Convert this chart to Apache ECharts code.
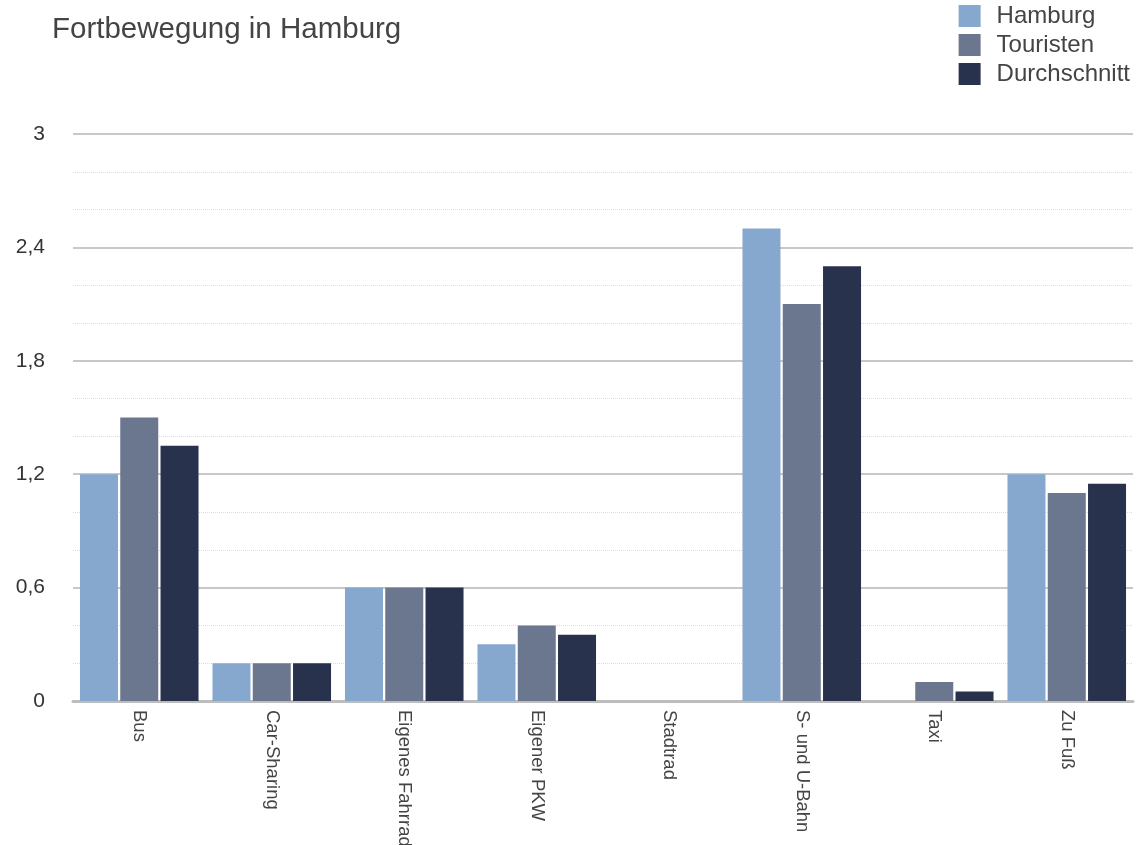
<!DOCTYPE html>
<html>
<head>
<meta charset="utf-8">
<script src="https://cdn.jsdelivr.net/npm/echarts@6/dist/echarts.min.js"></script>
<style>
  html, body { margin: 0; padding: 0; background: #fff; }
  #chart { width: 1137px; height: 845px; }
</style>
</head>
<body>
<div id="chart"></div>
<script>
// Verkehrsmittel und Nutzung
const categories = ['Bus', 'Car-Sharing', 'Eigenes Fahrrad', 'Eigener PKW', 'Stadtrad', 'S- und U-Bahn', 'Taxi', 'Zu Fuß'];
const hamburg = [1.2, 0.2, 0.6, 0.3, 0, 2.5, 0, 1.2];
const touristen = [1.5, 0.2, 0.6, 0.4, 0, 2.1, 0.1, 1.1];
const durchschnitt = [1.35, 0.2, 0.6, 0.35, 0, 2.3, 0.05, 1.15];
const seriesNames = ['Hamburg', 'Touristen', 'Durchschnitt'];
const colors = ['#86a8ce', '#6b778e', '#29324d'];

const font = '"Liberation Sans", Arial, Helvetica, sans-serif';
const chart = echarts.init(document.getElementById('chart'), null, { renderer: 'canvas' });

const values = [hamburg, touristen, durchschnitt];
chart.setOption({
  animation: false,
  color: colors,
  title: {
    text: 'Fortbewegung in Hamburg',
    left: 47,
    top: 10,
    textStyle: { fontFamily: font, fontSize: 29.5, fontWeight: 'normal', color: '#444' }
  },
  legend: {
    orient: 'vertical',
    right: 2,
    top: -1,
    itemWidth: 22,
    itemHeight: 22,
    itemGap: 5,
    icon: 'rect',
    textStyle: { fontFamily: font, fontSize: 24, color: '#444', padding: [0, 0, 0, 11] },
    data: seriesNames
  },
  grid: { left: 73, right: 4, top: 134, bottom: 144, containLabel: false, outerBoundsMode: 'none' },
  xAxis: {
    type: 'category',
    data: categories,
    axisLine: { lineStyle: { color: '#bdbdbd', width: 3 } },
    axisTick: { show: false },
    axisLabel: {
      rotate: -90,
      interval: 0,
      margin: 9,
      fontFamily: font,
      fontSize: 18.5,
      color: '#444'
    }
  },
  yAxis: {
    type: 'value',
    min: 0,
    max: 3,
    interval: 0.6,
    axisLine: { show: false },
    axisTick: { show: false },
    axisLabel: {
      margin: 28,
      fontFamily: font,
      fontSize: 21,
      color: '#333',
      formatter: v => String(Math.round(v * 10) / 10).replace('.', ',')
    },
    splitLine: { lineStyle: { color: '#c8c8c8', width: 2 } },
    minorTick: { show: false, splitNumber: 3 },
    minorSplitLine: { show: true, lineStyle: { color: '#dcdcdc', type: 'dotted', width: 1 } }
  },
  series: seriesNames.map((name, i) => ({
    name,
    type: 'bar',
    data: values[i],
    barWidth: 38,
    barGap: '6%',
    itemStyle: { color: colors[i] }
  }))
});
</script>
</body>
</html>
